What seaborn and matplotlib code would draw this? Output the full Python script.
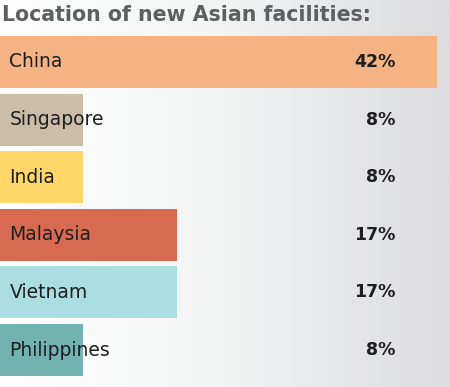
import numpy as np
import pandas as pd
import matplotlib
matplotlib.use("Agg")
import matplotlib.pyplot as plt
import seaborn as sns

# --- data ---
countries = ["China", "Singapore", "India", "Malaysia", "Vietnam", "Philippines"]
shares = [42, 8, 8, 17, 17, 8]
bar_colors = ["#F5B383", "#CBBEA8", "#FFD668", "#D86A52", "#ABDEE3", "#72B2B0"]
title = "Location of new Asian facilities:"

df = pd.DataFrame({"country": countries, "share": shares})

sns.set_theme(style="white")
plt.rcParams["font.family"] = ["DejaVu Sans"]

fig = plt.figure(figsize=(4.5, 3.87), dpi=100)
ax = fig.add_axes([0, 0, 1, 1])

# background: white on the left fading to light gray on the right
grad = np.linspace(0, 1, 256).reshape(1, -1)
bg = matplotlib.colors.LinearSegmentedColormap.from_list("bg", ["#FFFFFF", "#F2F3F3", "#DCDCDF"])
ax.imshow(grad, cmap=bg, aspect="auto", extent=[0, 1, 0, 1],
          transform=ax.transAxes, zorder=0)

sns.barplot(data=df, x="share", y="country", hue="country", palette=bar_colors,
            orient="h", width=0.9, saturation=1, legend=False, ax=ax, zorder=2,
            edgecolor="none")

ax.set_xlim(0, 450 / 10.4)
ax.set_ylim(5.642, -1.076)
ax.set_axis_off()

for i, (c, v) in enumerate(zip(countries, shares)):
    ax.text(0.9, i, c, va="center", ha="left", fontsize=13.5,
            color="#1E1E1E", zorder=3)
    ax.text(38.0, i, f"{v}%", va="center", ha="right", fontsize=12.5,
            color="#1E1E1E", fontweight="bold", zorder=3)

fig.text(0.004, 0.962, title, ha="left", va="center", fontsize=14.8,
         fontweight="bold", color="#5E5F61")

fig.savefig("out.png", dpi=100)
